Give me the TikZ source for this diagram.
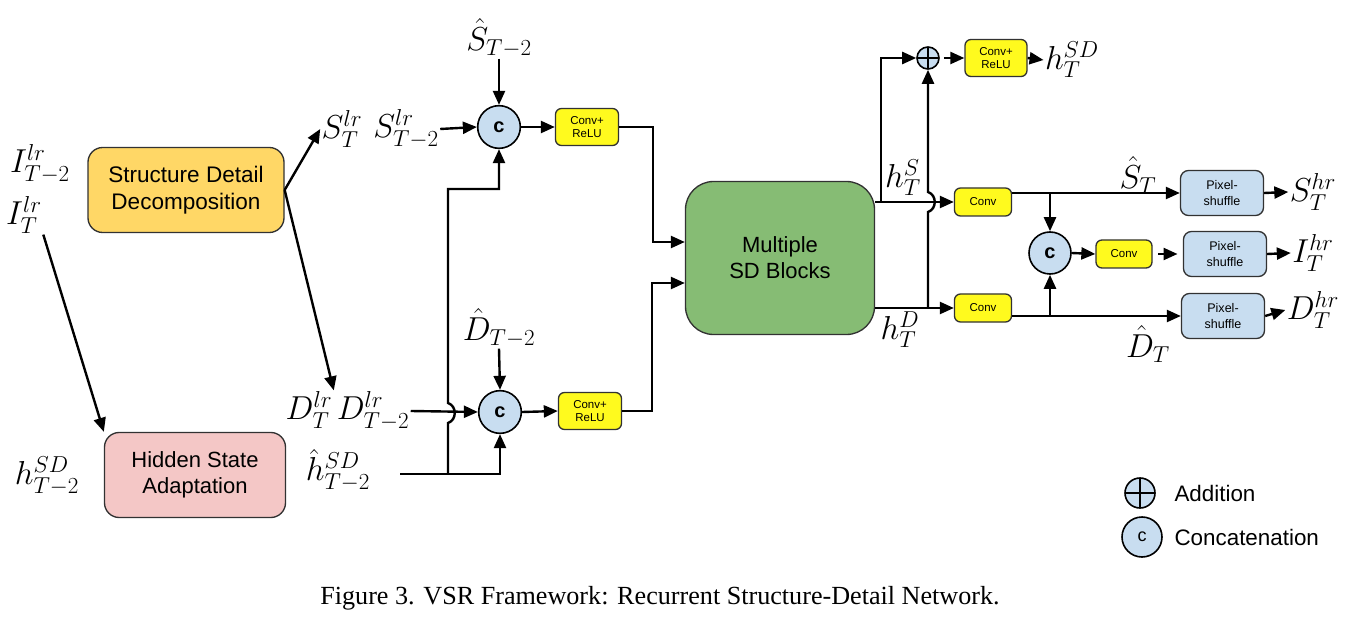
\documentclass[tikz,border=0pt]{standalone}
\usepackage{fontspec}
\setsansfont{Liberation Sans}
\newfontfamily\captionserif{Liberation Serif}
\usetikzlibrary{arrows.meta}

\definecolor{sddorange}{RGB}{255,215,102}
\definecolor{hsapink}{RGB}{244,199,198}
\definecolor{msdgreen}{RGB}{134,188,116}
\definecolor{convyellow}{RGB}{255,250,30}
\definecolor{opblue}{RGB}{200,221,240}
\definecolor{edgegray}{RGB}{50,50,50}

\tikzset{every picture/.style={line width=0.75pt},
  conn/.style={line width=1.8pt,-{Triangle[length=10.5pt,width=9pt]}},
  bigbox/.style={draw=edgegray,line width=1pt,rounded corners=11pt,align=center,inner sep=0pt,font=\sffamily\fontsize{16.9}{20}\selectfont},
  convbox/.style={draw=edgegray,line width=1pt,fill=convyellow,rounded corners=4.5pt,align=center,inner sep=0pt,font=\sffamily\fontsize{8.6}{9.5}\selectfont},
  psbox/.style={draw=edgegray,line width=1pt,fill=opblue,rounded corners=6pt,align=center,inner sep=0pt,minimum width=62.25pt,minimum height=33.75pt,font=\sffamily\fontsize{9.4}{12.5}\selectfont},
  catnode/.style={circle,draw=black,line width=1.2pt,fill=opblue,inner sep=0pt,minimum size=32pt,font=\sffamily\bfseries\fontsize{15}{15}\selectfont},
  addnode/.style={circle,draw=black,line width=1.2pt,fill=opblue,inner sep=0pt,path picture={\draw[line width=1pt] (path picture bounding box.north) -- (path picture bounding box.south) (path picture bounding box.west) -- (path picture bounding box.east);}},
  mathlabel/.style={inner sep=0.75pt,font=\fontsize{24}{28}\selectfont},
  legendtext/.style={anchor=west,inner sep=0pt,font=\sffamily\fontsize{16.8}{20}\selectfont}
}

\begin{document}
\begin{tikzpicture}[x=0.75pt,y=0.75pt,yscale=-1,xscale=1]
\useasboundingbox (0,0) rectangle (1349,620);

%Rounded Rect [id:sdd]
\node [bigbox,fill=sddorange,minimum width=147pt,minimum height=63.75pt] (sdd) at (186,190) {Structure Detail\\Decomposition};
%Rounded Rect [id:hsa]
\node [bigbox,fill=hsapink,minimum width=135.75pt,minimum height=63.75pt,font=\sffamily\fontsize{16.5}{19.5}\selectfont] (hsa) at (195,475) {Hidden State\\Adaptation};
%Rounded Rect [id:msd]
\node [bigbox,fill=msdgreen,rounded corners=21pt,minimum width=141.75pt,minimum height=114.75pt,font=\sffamily\fontsize{16.5}{19.5}\selectfont] (msd) at (780,258) {Multiple\\SD Blocks};

%Shape: Circle [id:concat]
\node [catnode] (catS) at (499,127) {c};
\node [catnode] (catD) at (500,412) {c};
\node [catnode,minimum size=31.5pt] (catO) at (1050,253) {c};
%Shape: Circle [id:add]
\node [addnode,minimum size=16.5pt] (add) at (928,58) {};

%Rounded Rect [id:conv]
\node [convbox,minimum width=47.25pt,minimum height=27.75pt] (crS) at (587,127) {Conv+\\ReLU};
\node [convbox,minimum width=47.25pt,minimum height=27.75pt] (crD) at (590,411) {Conv+\\ReLU};
\node [convbox,minimum width=46.5pt,minimum height=27.75pt] (crH) at (996,58) {Conv+\\ReLU};
\node [convbox,minimum width=42.75pt,minimum height=21pt] (convS) at (983,202) {Conv};
\node [convbox,minimum width=42.75pt,minimum height=21pt] (convD) at (983,308) {Conv};
\node [convbox,minimum width=42pt,minimum height=21pt] (convI) at (1124,254) {Conv};

%Rounded Rect [id:pixelshuffle]
\node [psbox] (psS) at (1222,193) {Pixel-\\shuffle};
\node [psbox] (psI) at (1225,254) {Pixel-\\shuffle};
\node [psbox] (psD) at (1223,316) {Pixel-\\shuffle};

% Text Node
\draw (40,164) node (iTm2) [mathlabel] {$I^{lr}_{T-2}$};
% Text Node
\draw (24,215) node (iT) [mathlabel] {$I^{lr}_{T}$};
% Text Node
\draw (47,476) node (hTm2) [mathlabel] {$h^{SD}_{T-2}$};
% Text Node
\draw (342,129) node (sTlr) [mathlabel] {$S^{lr}_{T}$};
% Text Node
\draw (406,129) node (sTm2lr) [mathlabel] {$S^{lr}_{T-2}$};
% Text Node
\draw (499,38) node (shatTm2) [mathlabel] {$\hat{S}_{T-2}$};
% Text Node
\draw (309,410) node (dTlr) [mathlabel] {$D^{lr}_{T}$};
% Text Node
\draw (373,411) node (dTm2lr) [mathlabel] {$D^{lr}_{T-2}$};
% Text Node
\draw (499,328) node (dhatTm2) [mathlabel] {$\hat{D}_{T-2}$};
% Text Node
\draw (338,470) node (hhatTm2) [mathlabel] {$\hat{h}^{SD}_{T-2}$};
% Text Node
\draw (903,178) node (hTS) [mathlabel] {$h^{S}_{T}$};
% Text Node
\draw (900,330) node (hTD) [mathlabel] {$h^{D}_{T}$};
% Text Node
\draw (1072,60) node (hTSD) [mathlabel] {$h^{SD}_{T}$};
% Text Node
\draw (1138,175) node (shatT) [mathlabel] {$\hat{S}_{T}$};
% Text Node
\draw (1148,344) node (dhatT) [mathlabel] {$\hat{D}_{T}$};
% Text Node
\draw (1313,192) node (sThr) [mathlabel] {$S^{hr}_{T}$};
% Text Node
\draw (1313,253) node (iThr) [mathlabel] {$I^{hr}_{T}$};
% Text Node
\draw (1313,310) node (dThr) [mathlabel] {$D^{hr}_{T}$};

%Coordinates for free line ends
\coordinate (hhatIn) at (400,474);
\coordinate (jL) at (448,474);
\coordinate (jS) at (881,202);
\coordinate (jD) at (928,308);
\coordinate (jSd) at (1050,193);
\coordinate (jDu) at (1050,316);

%Straight Lines
\draw [conn] (sdd.east) -- (sTlr.west);
\draw [conn] (sdd.east) -- (dTlr.north east);
\draw [conn] (iT.south east) -- (hsa.north west);
\draw [conn] (sTm2lr.east) -- (catS.west);
\draw [conn] (shatTm2.south) -- (catS.north);
\draw [conn] (catS.east) -- (crS.west);
\draw [conn] (crS.east) -- ++(34,0) |- ([yshift=-12pt]msd.west);
\draw [conn] (dTm2lr.east) -- (catD.west);
\draw [conn] (dhatTm2.south) -- (catD.north);
\draw [conn] (catD.east) -- (crD.west);
\draw [conn] (crD.east) -- ++(30,0) |- ([yshift=18.75pt]msd.west);
\draw [conn] (hhatIn) -| (catD.south);
\draw [conn] (jL) -- (448,423) .. controls (457,420) and (457,406) .. (448,403) -- (448,189) -| (catS.south);

\draw [conn] (msd.east |- convS.west) -- (convS.west);
\draw [conn] (msd.east |- convD.west) -- (convD.west);
\draw [conn] (jS) |- (add.west);
\draw [conn] (jD) -- (928,212) .. controls (937,209) and (937,195) .. (928,192) -- (add.south);
\draw [conn,shorten <=3pt] (add.east) -- (crH.west);
\draw [conn] (crH.east) -- (hTSD.west);
\draw [conn] ([yshift=-6.75pt]convS.east) -- (psS.west);
\draw [conn] (jSd) -- (catO.north);
\draw [conn] ([yshift=6pt]convD.east) -- (psD.west);
\draw [conn] (jDu) -- (catO.south);
\draw [conn] (catO.east) -- (convI.west);
\draw [conn,shorten <=4pt,shorten >=4pt] (convI.east) -- (psI.west);
\draw [conn] (psS.east) -- (sThr.west);
\draw [conn] (psI.east) -- (iThr.west);
\draw [conn] (psD.east) -- (dThr.west);

%Legend
\node [addnode,minimum size=22.5pt] (legAdd) at (1140,493) {};
\node [catnode,minimum size=30pt,font=\sffamily\fontsize{13.5}{14}\selectfont] (legCat) at (1142,537) {c};
\draw (1174,493) node (legAddText) [legendtext] {Addition};
\draw (1174,537) node (legCatText) [legendtext] {Concatenation};

% Caption
\draw (660,598) node (caption) [inner sep=0pt,font=\captionserif\fontsize{19.6}{22}\selectfont] {Figure 3. VSR Framework: Recurrent Structure-Detail Network.};

\end{tikzpicture}
\end{document}
